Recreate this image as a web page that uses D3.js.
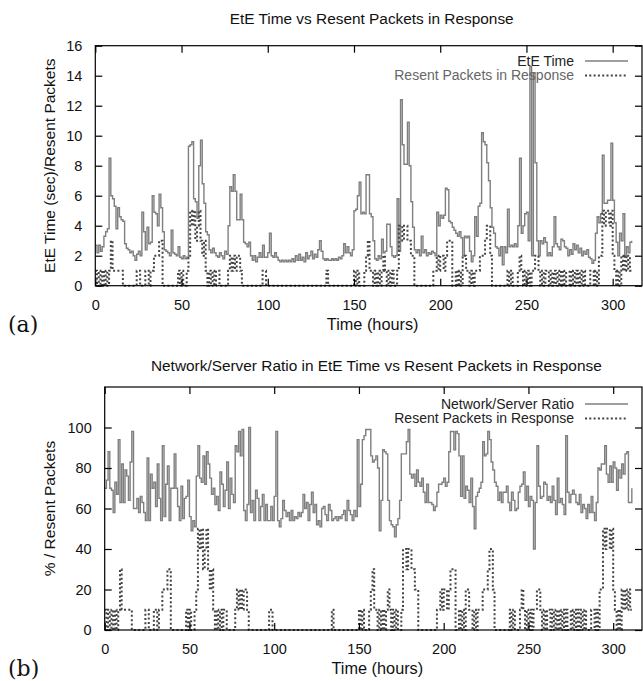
<!DOCTYPE html>
<html>
<head>
<meta charset="utf-8">
<script src="https://cdn.jsdelivr.net/npm/d3@7"></script>
<style>
  body { margin: 0; background: #fff; }
  text { font-family: "Liberation Sans", Arial, Helvetica, sans-serif; fill: #111; }
</style>
</head>
<body>
<svg id="chart" width="643" height="681"></svg>
<script>
// hourly samples, hour 0 .. 311
var eteTime = [
  2.7, 2.2, 2.7, 2.3, 2.6, 3.3, 3.6, 3.8, 8.5, 6.0,
  5.8, 5.3, 3.8, 5.2, 4.6, 4.4, 4.3, 2.8, 2.5, 2.4,
  2.2, 2.3, 2.0, 1.7, 2.1, 2.3, 2.0, 4.9, 3.6, 2.4,
  3.9, 2.8, 2.9, 6.0, 4.9, 4.8, 4.0, 6.1, 5.2, 3.6,
  2.4, 2.3, 2.2, 2.0, 3.7, 2.2, 2.1, 2.0, 2.6, 1.9,
  1.8, 2.0, 1.8, 1.9, 9.3, 9.4, 9.6, 5.8, 5.6, 4.5,
  8.0, 9.7, 6.8, 5.5, 3.6, 3.4, 2.4, 2.2, 2.5, 2.2,
  2.0, 1.9, 2.2, 2.0, 1.8, 2.3, 2.1, 4.0, 6.6, 6.3,
  7.4, 6.3, 4.4, 4.4, 6.1, 4.4, 2.9, 2.8, 2.6, 2.9,
  2.0, 1.7, 2.0, 1.6, 1.9, 2.2, 1.9, 2.7, 1.9, 1.9,
  2.2, 3.5, 2.0, 1.9, 2.2, 1.9, 1.7, 1.6, 1.7, 1.6,
  1.7, 1.6, 1.7, 1.6, 1.8, 1.6, 2.0, 1.7, 2.1, 1.7,
  1.9, 1.6, 2.2, 1.8, 2.0, 2.3, 1.8, 2.1, 1.9, 2.4,
  3.0, 2.3, 1.8, 1.7, 1.8, 1.7, 1.7, 1.8, 1.7, 1.8,
  1.7, 1.9, 1.8, 2.0, 2.8, 2.2, 2.6, 2.2, 2.0, 2.4,
  5.0, 5.1, 6.0, 6.9, 4.8, 4.9, 4.8, 7.4, 7.4, 4.8,
  4.6, 3.0, 1.8, 1.7, 2.0, 1.8, 3.1, 2.2, 2.3, 4.1,
  4.1, 2.6, 2.0, 1.9, 2.0, 5.8, 2.3, 12.4, 9.4, 8.1,
  8.1, 10.9, 8.0, 5.6, 3.9, 2.4, 2.2, 2.4, 2.0, 3.3,
  2.2, 2.4, 2.0, 2.2, 2.1, 2.3, 2.2, 2.0, 4.9, 4.0,
  4.7, 4.5, 4.7, 6.5, 6.4, 4.3, 4.2, 3.9, 3.7, 3.5,
  3.3, 3.6, 3.2, 2.0, 3.3, 3.2, 3.3, 2.3, 1.6, 2.0,
  4.6, 3.3, 5.3, 5.5, 10.2, 9.6, 9.4, 8.2, 7.0, 5.2,
  3.9, 3.5, 2.6, 2.5, 2.0, 2.6, 1.4, 2.6, 2.2, 5.1,
  2.6, 2.7, 2.6, 2.8, 2.6, 4.0, 8.5, 3.5, 4.0, 4.8,
  4.9, 3.0, 14.6, 2.0, 14.2, 8.2, 3.0, 2.0, 3.0, 2.8,
  3.2, 2.9, 2.0, 2.2, 2.0, 2.6, 4.6, 2.8, 2.6, 2.4,
  3.1, 3.0, 2.6, 2.5, 2.0, 2.4, 2.1, 2.8, 2.4, 2.7,
  2.2, 2.5, 2.0, 2.3, 2.1, 2.4, 1.9, 1.8, 1.5, 1.7,
  3.5, 4.6, 4.2, 4.8, 8.7, 5.5, 5.5, 5.7, 5.7, 9.5,
  5.7, 4.2, 2.9, 2.0, 3.5, 3.0, 4.8, 2.0, 2.6, 2.2,
  2.9, 3.0
];

var resentPackets = [
  1, 0, 1, 0, 1, 0, 1, 0, 1, 3,
  1, 1, 1, 1, 1, 1, 0, 0, 0, 0,
  0, 0, 0, 0, 1, 1, 0, 0, 0, 1,
  1, 0, 1, 1, 2, 2, 2, 3, 3, 0,
  0, 0, 0, 0, 0, 0, 0, 0, 1, 0,
  1, 0, 0, 1, 2, 5, 4, 5, 3, 4,
  5, 3, 2, 3, 1, 0, 1, 0, 1, 0,
  1, 1, 0, 0, 0, 0, 0, 1, 2, 1,
  2, 1, 2, 2, 1, 0, 0, 0, 0, 0,
  0, 0, 0, 0, 0, 0, 0, 1, 1, 0,
  0, 0, 0, 0, 0, 0, 0, 0, 0, 0,
  0, 0, 0, 0, 0, 0, 0, 0, 0, 0,
  0, 0, 0, 0, 0, 0, 0, 0, 0, 0,
  0, 0, 0, 0, 1, 0, 0, 0, 0, 0,
  0, 0, 0, 0, 0, 0, 0, 0, 0, 0,
  1, 0, 1, 0, 0, 0, 1, 2, 3, 1,
  1, 0, 1, 0, 1, 0, 1, 2, 1, 0,
  1, 0, 1, 0, 0, 1, 4, 4, 3, 4,
  4, 3, 3, 2, 2, 0, 0, 0, 0, 0,
  0, 0, 0, 0, 0, 0, 1, 1, 2, 1,
  2, 2, 1, 2, 3, 3, 3, 0, 0, 1,
  0, 1, 0, 2, 2, 1, 1, 0, 1, 0,
  1, 1, 1, 2, 2, 2, 3, 4, 4, 2,
  0, 0, 0, 0, 0, 0, 0, 0, 0, 1,
  0, 1, 0, 0, 0, 1, 2, 1, 0, 1,
  0, 1, 0, 1, 1, 2, 2, 1, 0, 1,
  0, 1, 1, 0, 1, 0, 1, 0, 1, 0,
  1, 0, 1, 0, 0, 1, 0, 1, 0, 1,
  0, 1, 0, 1, 0, 0, 0, 1, 1, 0,
  1, 0, 2, 2, 5, 4, 5, 5, 4, 5,
  2, 1, 0, 1, 0, 2, 1, 2, 1, 2,
  1, 1
];

var netServerRatio = [
  70, 74, 88, 70, 69, 58, 73, 67, 94, 63,
  82, 63, 79, 76, 64, 83, 98, 60, 60, 65,
  58, 66, 63, 58, 54, 85, 54, 77, 70, 73,
  61, 82, 65, 54, 91, 56, 72, 81, 54, 70,
  70, 87, 70, 61, 54, 71, 55, 65, 66, 74,
  56, 49, 54, 51, 76, 91, 75, 73, 86, 72,
  88, 82, 75, 67, 70, 62, 66, 59, 78, 72,
  61, 69, 83, 60, 75, 67, 63, 91, 88, 98,
  86, 99, 59, 54, 62, 100, 58, 64, 54, 69,
  65, 54, 61, 67, 54, 62, 54, 54, 61, 54,
  66, 98, 54, 51, 55, 64, 59, 56, 58, 54,
  59, 54, 56, 55, 58, 56, 58, 67, 60, 63,
  54, 62, 68, 58, 62, 52, 54, 51, 60, 61,
  57, 54, 62, 59, 54, 55, 56, 54, 56, 55,
  57, 59, 54, 64, 59, 57, 54, 59, 56, 94,
  61, 72, 94, 96, 99, 99, 99, 86, 83, 84,
  86, 80, 49, 64, 89, 88, 87, 64, 54, 52,
  51, 46, 52, 55, 64, 87, 87, 87, 93, 99,
  77, 75, 77, 71, 79, 73, 71, 75, 68, 63,
  72, 63, 63, 62, 59, 61, 68, 72, 72, 73,
  75, 71, 73, 88, 98, 98, 89, 98, 97, 86,
  66, 86, 65, 71, 69, 63, 75, 61, 50, 66,
  68, 70, 73, 93, 86, 87, 98, 94, 83, 79,
  73, 71, 64, 68, 63, 68, 68, 71, 63, 59,
  68, 64, 59, 60, 68, 71, 72, 78, 64, 71,
  61, 66, 64, 40, 63, 91, 71, 65, 66, 73,
  72, 64, 66, 63, 71, 64, 57, 75, 63, 65,
  62, 57, 96, 68, 63, 67, 69, 67, 63, 62,
  67, 58, 62, 60, 55, 62, 58, 66, 58, 54,
  63, 80, 79, 82, 82, 91, 77, 73, 81, 73,
  83, 80, 69, 79, 75, 82, 77, 87, 88, 63,
  63, 70
];

var xTicks = [0, 50, 100, 150, 200, 250, 300];
var eteTicks = [0, 2, 4, 6, 8, 10, 12, 14, 16];
var ratioTicks = [0, 20, 40, 60, 80, 100];

var svg = d3.select("#chart");

function drawPanel(p) {
  var x = d3.scaleLinear().domain([0, 317]).range([p.left, p.right]);
  var y = d3.scaleLinear().domain(p.yDomain).range([p.bottom, p.top]);
  var g = svg.append("g");

  // data lines first so the frame sits on top
  p.series.forEach(function(s) {
    var line = d3.line()
        .x(function(d, i) { return x(i); })
        .y(function(d) { return y(d); })
        .curve(d3.curveStepAfter);
    g.append("path")
        .datum(s.values)
        .attr("fill", "none")
        .attr("stroke", s.color)
        .attr("stroke-width", s.width)
        .attr("stroke-dasharray", s.dash)
        .attr("d", line);
  });

  // frame
  g.append("rect")
      .attr("x", p.left).attr("y", p.top)
      .attr("width", p.right - p.left).attr("height", p.bottom - p.top)
      .attr("fill", "none").attr("stroke", "#000").attr("stroke-width", 1.2);

  // axes (inward ticks, mirrored)
  g.append("g").attr("transform", "translate(0," + p.bottom + ")")
      .call(d3.axisBottom(x).tickValues(xTicks).tickSize(-7).tickPadding(14))
      .call(styleAxis);
  g.append("g").attr("transform", "translate(0," + p.top + ")")
      .call(d3.axisTop(x).tickValues(xTicks).tickSize(-7).tickFormat(""))
      .call(styleAxis);
  g.append("g").attr("transform", "translate(" + p.left + ",0)")
      .call(d3.axisLeft(y).tickValues(p.yTicks).tickSize(-7).tickPadding(13))
      .call(styleAxis);
  g.append("g").attr("transform", "translate(" + p.right + ",0)")
      .call(d3.axisRight(y).tickValues(p.yTicks).tickSize(-7).tickFormat(""))
      .call(styleAxis);

  g.append("text")
      .attr("x", (p.left + p.right) / 2 + 3).attr("y", p.titleY)
      .attr("text-anchor", "middle")
      .style("font-size", "15.4px")
      .text(p.title);

  g.append("text")
      .attr("x", (p.left + p.right) / 2 + 4).attr("y", p.bottom + 44)
      .attr("text-anchor", "middle")
      .style("font-size", "16.3px")
      .text("Time (hours)");

  g.append("text")
      .attr("transform", "translate(" + p.yLabelX + "," + ((p.top + p.bottom) / 2) + ") rotate(-90)")
      .attr("text-anchor", "middle")
      .style("font-size", "15.5px")
      .text(p.yLabel);

  g.append("text")
      .attr("x", 8).attr("y", p.bottom + 46)
      .style("font-family", "'DejaVu Serif', 'Liberation Serif', serif")
      .style("font-size", "22px")
      .text(p.tag);

  // legend
  p.series.forEach(function(s, i) {
    var ly = p.legendY + i * 14.5;
    g.append("text")
        .attr("x", 574).attr("y", ly).attr("dy", "0.35em")
        .attr("text-anchor", "end")
        .style("font-size", "14px")
        .style("fill", s.labelColor)
        .text(s.name);
    g.append("line")
        .attr("x1", 585).attr("x2", 628)
        .attr("y1", ly).attr("y2", ly)
        .attr("stroke", s.color)
        .attr("stroke-width", s.width)
        .attr("stroke-dasharray", s.dash);
  });
}

function styleAxis(sel) {
  sel.select(".domain").remove();
  sel.selectAll(".tick line").attr("stroke", "#000").attr("stroke-width", 1.2);
  sel.selectAll(".tick text")
      .style("font-family", "'Liberation Sans', Arial, sans-serif")
      .style("font-size", "14.5px")
      .attr("fill", "#111");
}

drawPanel({
  left: 95.3, right: 642, top: 45.7, bottom: 285.7,
  yDomain: [0, 16], yTicks: eteTicks,
  title: "EtE Time vs Resent Packets in Response", titleY: 24,
  yLabel: "EtE Time (sec)/Resent Packets", yLabelX: 55,
  tag: "(a)", legendY: 61,
  series: [
    { name: "EtE Time", values: eteTime, color: "#7f7f7f", width: 1.4, dash: null, labelColor: "#222" },
    { name: "Resent Packets in Response", values: resentPackets, color: "#444", width: 2, dash: "2,2.3", labelColor: "#666" }
  ]
});

drawPanel({
  left: 104.7, right: 642, top: 387, bottom: 630,
  yDomain: [0, 120], yTicks: ratioTicks,
  title: "Network/Server Ratio in EtE Time vs Resent Packets in Response", titleY: 371,
  yLabel: "% / Resent Packets", yLabelX: 55,
  tag: "(b)", legendY: 404,
  series: [
    { name: "Network/Server Ratio", values: netServerRatio, color: "#7f7f7f", width: 1.4, dash: null, labelColor: "#222" },
    { name: "Resent Packets in Response", values: resentPackets.map(function(d) { return d * 10; }), color: "#444", width: 2, dash: "2,2.3", labelColor: "#222" }
  ]
});
</script>
</body>
</html>
